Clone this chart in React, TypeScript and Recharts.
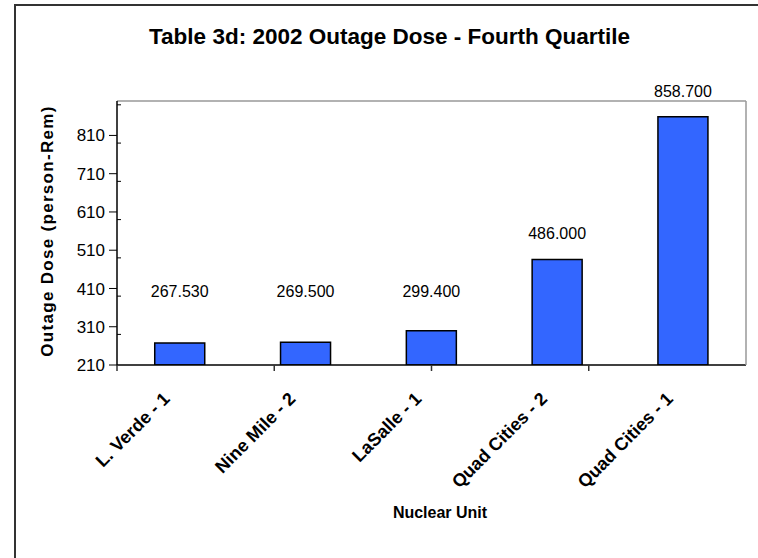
import React from "react";
import { BarChart, Bar, XAxis, YAxis, LabelList, ReferenceLine } from "recharts";

const units = ["L. Verde - 1", "Nine Mile - 2", "LaSalle - 1", "Quad Cities - 2", "Quad Cities - 1"];
const doses = [267.53, 269.5, 299.4, 486.0, 858.7];
const majorTicks = [210, 310, 410, 510, 610, 710, 810];
const minorTicks = [230, 250, 270, 290, 330, 350, 370, 390, 430, 450, 470, 490, 530, 550, 570, 590, 630, 650, 670, 690, 730, 750, 770, 790, 830, 850, 870, 890];
const boundaryTicks = [0, 1, 2, 3, 4, 5];

const data = units.map((u, i) => ({ unit: u, dose: doses[i] }));

const FONT = "'Liberation Sans', Arial, sans-serif";

const NoLabel = () => <g />;

const XTick = (props: any) => {
  const { x, y, payload } = props;
  const ax = x - 9;
  const ay = y + 26;
  return (
    <text
      x={ax}
      y={ay}
      transform={`rotate(-45, ${ax}, ${ay})`}
      textAnchor="end"
      fontFamily={FONT}
      fontWeight="bold"
      fontSize={18}
      fill="#000"
    >
      {payload.value}
    </text>
  );
};

const BarLabel = (props: any) => {
  const { x, y, width, value } = props;
  const base = Math.min(y, 317) - 20;
  return (
    <text x={x + width / 2} y={base} textAnchor="middle" fontFamily={FONT} fontSize={16} fill="#000">
      {Number(value).toFixed(3)}
    </text>
  );
};

export default function App() {
  return (
    <div style={{ position: "absolute", left: 0, top: 0, width: 758, height: 558, background: "#fff", fontFamily: FONT, overflow: "hidden" }}>
      <div style={{ position: "absolute", left: 14, top: 4, width: 744, height: 554, borderTop: "2px solid #333", borderLeft: "2px solid #333" }} />
      <div style={{ position: "absolute", left: 0, width: 779, top: 24, textAlign: "center", fontWeight: "bold", fontSize: 22.5, lineHeight: "26px", color: "#000", whiteSpace: "nowrap" }}>
        Table 3d: 2002 Outage Dose - Fourth Quartile
      </div>
      <div style={{ position: "absolute", left: 0, top: 0 }}>
        <BarChart width={758} height={558} data={data} margin={{ top: 101, right: 11, bottom: 73, left: 17 }} barCategoryGap="30%">
          <XAxis xAxisId="a" type="number" domain={[0, 5]} ticks={boundaryTicks} height={1} tick={<NoLabel />} tickSize={6} tickLine={{ stroke: "#333", strokeWidth: 1.5 }} axisLine={{ stroke: "#000", strokeWidth: 1.5 }} allowDataOverflow />
          <XAxis xAxisId="z" dataKey="unit" height={119} tickLine={false} axisLine={false} tick={<XTick />} interval={0} />
          <YAxis yAxisId="y" domain={[210, 900]} ticks={majorTicks} width={100} tickSize={8} axisLine={{ stroke: "#000", strokeWidth: 1.5 }} tickLine={{ stroke: "#000" }} tick={{ fontFamily: FONT, fontSize: 17, fill: "#000" }} tickMargin={4} allowDataOverflow />
          <YAxis yAxisId="minor" domain={[210, 900]} ticks={minorTicks} width={1} tick={<NoLabel />} tickSize={4} mirror axisLine={false} tickLine={{ stroke: "#000" }} allowDataOverflow />
          <YAxis yAxisId="r" orientation="right" domain={[210, 900]} width={1} tick={<NoLabel />} tickLine={false} axisLine={{ stroke: "#999", strokeWidth: 1.5 }} allowDataOverflow />
          <ReferenceLine y={900} yAxisId="y" xAxisId="a" stroke="#999" strokeWidth={1.5} ifOverflow="visible" />
          <Bar dataKey="dose" xAxisId="z" yAxisId="y" fill="#3366FF" stroke="#000" strokeWidth={1.5} isAnimationActive={false}>
            <LabelList dataKey="dose" content={<BarLabel />} />
          </Bar>
        </BarChart>
      </div>
      <div style={{ position: "absolute", left: 48, top: 231, transform: "translate(-50%, -50%) rotate(-90deg)", whiteSpace: "nowrap", fontWeight: "bold", fontSize: 17, letterSpacing: 1.3, color: "#000" }}>
        Outage Dose (person-Rem)
      </div>
      <div style={{ position: "absolute", left: 440, top: 513, transform: "translate(-50%, -50%)", whiteSpace: "nowrap", fontWeight: "bold", fontSize: 16, color: "#000" }}>
        Nuclear Unit
      </div>
    </div>
  );
}
